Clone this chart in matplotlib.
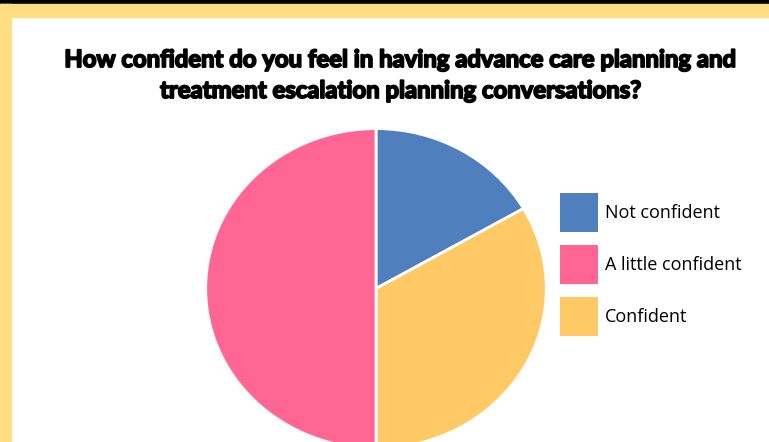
import matplotlib
matplotlib.use('Agg')
import matplotlib.pyplot as plt
import matplotlib.patheffects as pe
from matplotlib.patches import Rectangle, Patch

# data
labels = ['Not confident', 'A little confident', 'Confident']
values = [1, 3, 2]
colors = ['#4F7FBC', '#FF6694', '#FFCA66']
# slices go clockwise from 12 o'clock: blue, yellow, pink
draw_order = [0, 2, 1]

title = ('How confident do you feel in having advance care planning and\n'
         'treatment escalation planning conversations?')

fig = plt.figure(figsize=(7.69, 4.42), dpi=100)
W, H = 769, 442

def fx(px):
    return px / W

def fy(py):
    return 1 - py / H

# frame: black line on top, yellow border top and left
fig.patches.append(Rectangle((0, fy(4)), 1, 4 / H, transform=fig.transFigure,
                             color='black', zorder=0))
fig.patches.append(Rectangle((fx(475), fy(6)), 2 / W, 3 / H, transform=fig.transFigure,
                             color='black', zorder=0))
fig.patches.append(Rectangle((0, fy(16.5)), 1, 12.5 / H, transform=fig.transFigure,
                             color='#FFDE82', zorder=0))
fig.patches.append(Rectangle((0, 0), fx(11), fy(4), transform=fig.transFigure,
                             color='#FFDE82', zorder=0))

fig.text(fx(401), fy(75), title, ha='center', va='center', fontsize=17.2,
         fontfamily='Lato', fontweight='bold', linespacing=1.42,
         path_effects=[pe.withStroke(linewidth=1.3, foreground='black')])

ax = fig.add_axes([fx(204), fy(450), fx(344), 323 / H])
ax.pie([values[i] for i in draw_order], colors=[colors[i] for i in draw_order],
       startangle=90, counterclock=False,
       wedgeprops=dict(edgecolor='white', linewidth=2))
ax.set_aspect('auto')
ax.set_xlim(-1.01, 1.01)
ax.set_ylim(-1.01, 1.01)
ax.axis('off')

handles = [Patch(facecolor=c, edgecolor='none') for c in colors]
fig.legend(handles, labels, loc='upper left', bbox_to_anchor=(fx(553), fy(186)),
           frameon=False, prop={'family': 'Open Sans', 'size': 13},
           handlelength=2.1, handleheight=2.9, labelspacing=0.75,
           handletextpad=0.4, borderaxespad=0)

fig.savefig('out.png', dpi=100)
